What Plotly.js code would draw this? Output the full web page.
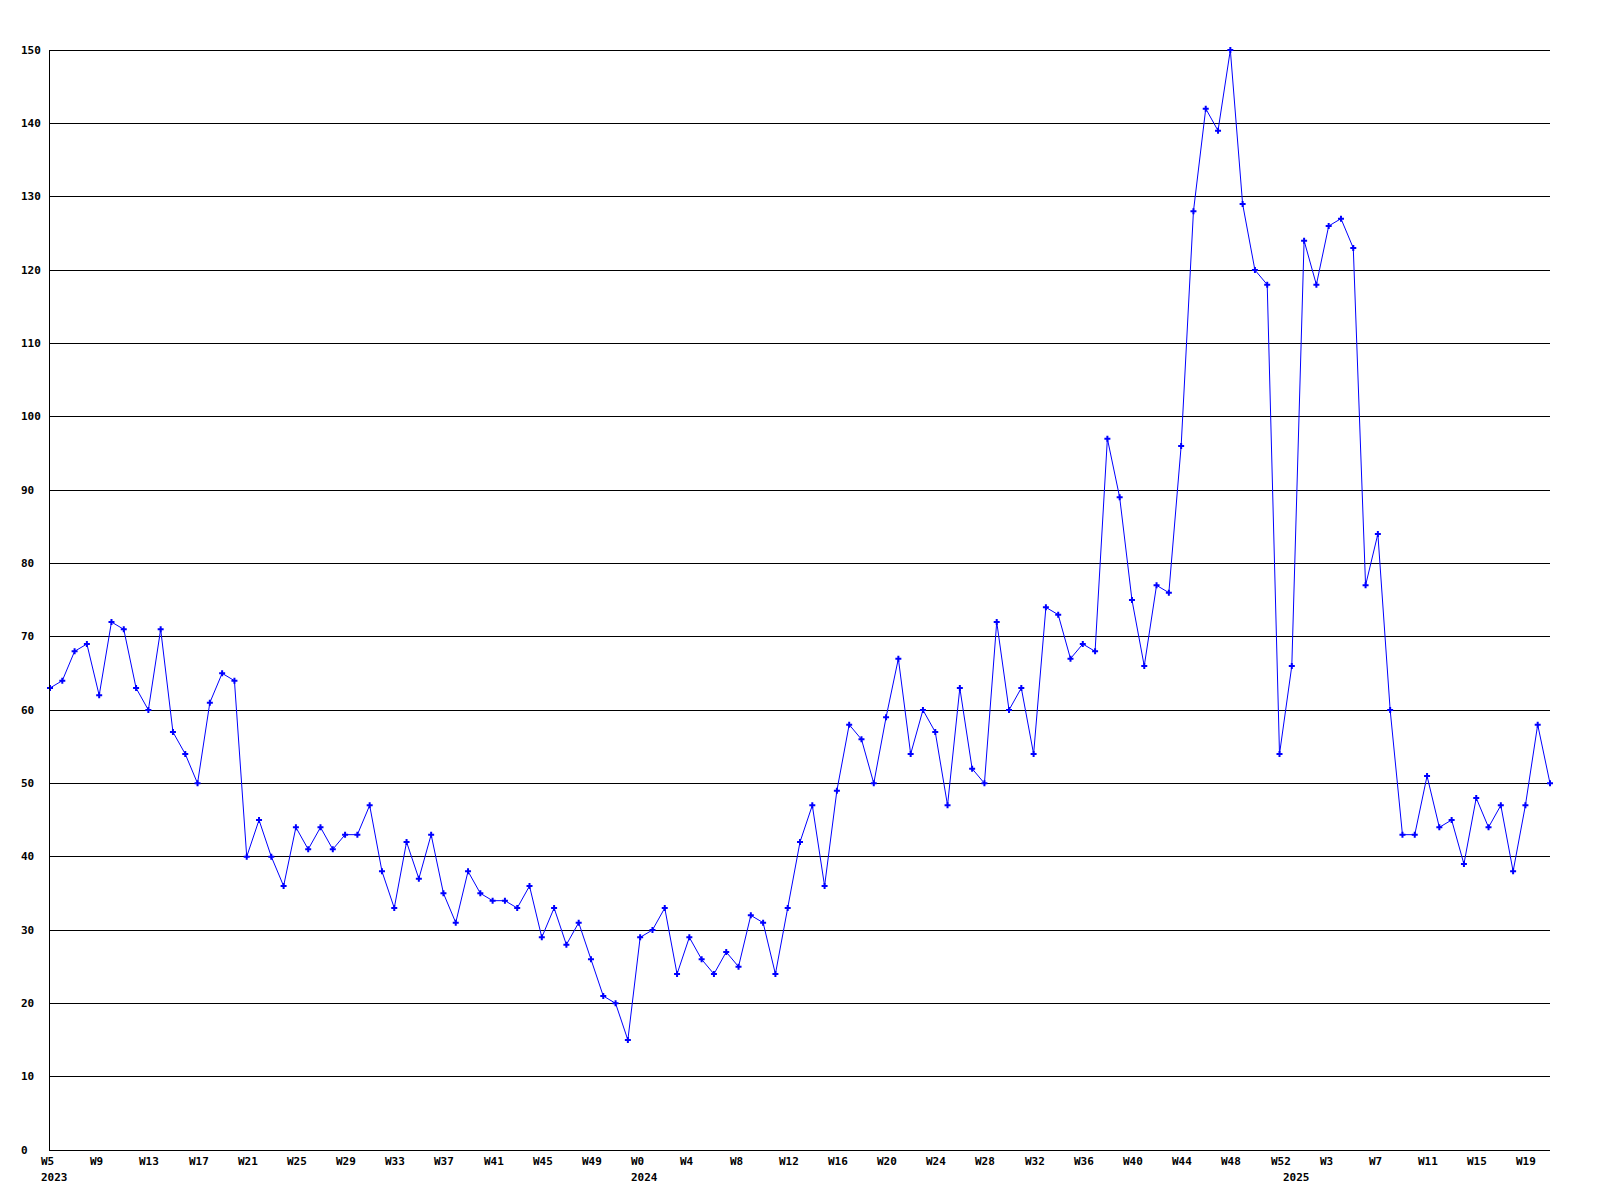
<!DOCTYPE html>
<html>
<head>
<meta charset="utf-8">
<script src="https://cdn.plot.ly/plotly-3.0.1.min.js"></script>
<style>html,body{margin:0;padding:0;background:#fff;}</style>
</head>
<body>
<div id="chart" style="width:1600px;height:1200px;"></div>
<script>
// Weekly values
const years = [2023, 2024, 2025];
const firstWeek = [5, 0, 0];
const values2023 = [63,64,68,69,62,72,71,63,60,71,57,54,50,61,65,64,40,45,40,36,44,41,44,41,43,43,47,38,33,42,37,43,35,31,38,35,34,34,33,36,29,33,28,31,26,21,20,15];
const values2024 = [29,30,33,24,29,26,24,27,25,32,31,24,33,42,47,36,49,58,56,50,59,67,54,60,57,47,63,52,50,72,60,63,54,74,73,67,69,68,97,89,75,66,77,76,96,128,142,139,150,129,120,118,54];
const values2025 = [66,124,118,126,127,123,77,84,60,43,43,51,44,45,39,48,44,47,38,47,58,50];

// Tick labels (year, week)
const tickYears = [2023,2023,2023,2023,2023,2023,2023,2023,2023,2023,2023,2023,
                   2024,2024,2024,2024,2024,2024,2024,2024,2024,2024,2024,2024,2024,2024,
                   2025,2025,2025,2025,2025];
const tickWeeks = [5,9,13,17,21,25,29,33,37,41,45,49,
                   0,4,8,12,16,20,24,28,32,36,40,44,48,52,
                   3,7,11,15,19];
const yTicks = [0,10,20,30,40,50,60,70,80,90,100,110,120,130,140,150];

// Build category list (year, week) -> index
const seriesByYear = [values2023, values2024, values2025];
const cats = [];
const vals = [];
years.forEach((yr, i) => {
  seriesByYear[i].forEach((v, j) => {
    cats.push({year: yr, week: firstWeek[i] + j});
    vals.push(v);
  });
});
const xs = cats.map((c, i) => i);
const idxOf = (yr, wk) => cats.findIndex(c => c.year === yr && c.week === wk);
const yMax = yTicks[yTicks.length - 1];

const font = {family: '"DejaVu Sans Mono", monospace', size: 11, color: '#000'};
const annotations = [];
tickWeeks.forEach((wk, i) => {
  annotations.push({
    x: idxOf(tickYears[i], wk), y: 0, xref: 'x', yref: 'y',
    text: '<b>W' + wk + '</b>', showarrow: false,
    xanchor: 'left', yanchor: 'middle', xshift: -11, yshift: -11,
    font: font
  });
});
years.forEach((yr, i) => {
  annotations.push({
    x: idxOf(yr, firstWeek[i]), y: 0, xref: 'x', yref: 'y',
    text: '<b>' + yr + '</b>', showarrow: false,
    xanchor: 'left', yanchor: 'middle', xshift: -11, yshift: -27,
    font: font
  });
});
yTicks.forEach(v => {
  annotations.push({
    x: 0, y: v, xref: 'paper', yref: 'y',
    text: '<b>' + v + '</b>', showarrow: false,
    xanchor: 'left', yanchor: 'middle', xshift: -31,
    font: font
  });
});

const trace = {
  x: xs, y: vals, type: 'scatter', mode: 'lines+markers',
  line: {color: '#0000ff', width: 1},
  marker: {color: '#0000ff', symbol: 'cross', size: 5, line: {width: 0}},
  hoverinfo: 'y',
  cliponaxis: false
};

const layout = {
  width: 1600, height: 1200,
  margin: {l: 50, r: 50, t: 50, b: 50, pad: 0},
  paper_bgcolor: '#fff', plot_bgcolor: '#fff',
  showlegend: false,
  xaxis: {
    range: [0, xs.length - 1], showgrid: false, zeroline: false,
    showline: true, linecolor: '#000', linewidth: 1,
    showticklabels: false, ticks: ''
  },
  yaxis: {
    range: [0, yMax], tickvals: yTicks, showgrid: true, gridcolor: '#000', gridwidth: 1,
    zeroline: false, showline: true, linecolor: '#000', linewidth: 1,
    showticklabels: false, ticks: ''
  },
  shapes: [{
    type: 'line', xref: 'paper', yref: 'y', x0: 0, x1: 1,
    ysizemode: 'pixel', yanchor: yMax, y0: -0.5, y1: -0.5,
    line: {color: '#000', width: 1}, layer: 'below'
  }],
  annotations: annotations
};

Plotly.newPlot('chart', [trace], layout, {displayModeBar: false, staticPlot: true});
</script>
</body>
</html>
